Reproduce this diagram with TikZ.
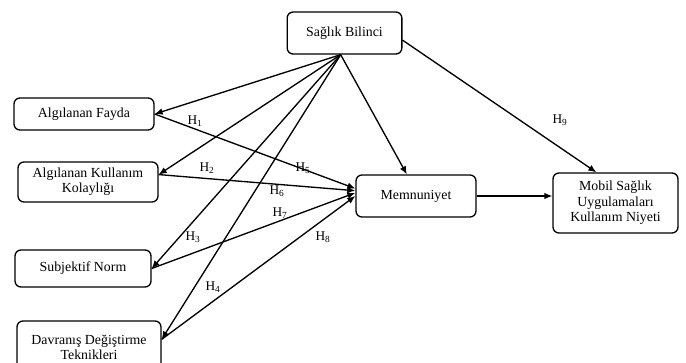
\documentclass[tikz,border=0pt]{standalone}
\usepackage{fontspec}
\setmainfont{Liberation Serif}
\usetikzlibrary{arrows.meta}

\tikzset{
  box/.style={draw, line width=1pt, rounded corners=4.5pt, align=center, inner sep=1pt,
    font=\fontsize{10.4}{11.5}\selectfont},
  hyp/.style={-{Latex[length=6pt,width=5pt]}, line width=1pt},
  lbl/.style={font=\fontsize{10}{12}\selectfont, inner sep=0pt}
}

\begin{document}
\begin{tikzpicture}[x=0.75pt,y=-0.75pt]
  \useasboundingbox (0,0) rectangle (686,362);
  % constructs
  \node[box, minimum width=86pt, minimum height=31.5pt] (sb) at (344.5,33) {Sağlık Bilinci};
  \node[box, minimum width=105pt, minimum height=24pt] (fay) at (84,114) {Algılanan Fayda};
  \node[box, minimum width=105pt, minimum height=30pt] (kol) at (88,182) {Algılanan Kullanım\\Kolaylığı};
  \node[box, minimum width=102pt, minimum height=27.75pt] (sn) at (83,268.5) {Subjektif Norm};
  \node[box, minimum width=108pt, minimum height=39pt] (dav) at (89,347) {Davranış Değiştirme\\Teknikleri};
  \node[box, minimum width=90pt, minimum height=31.5pt] (mem) at (416,196) {Memnuniyet};
  \node[box, minimum width=93.75pt, minimum height=45pt] (mob) at (615.5,203) {Mobil Sağlık\\Uygulamaları\\Kullanım Niyeti};

  % hypotheses
  \draw[hyp] (sb.260) -- (fay.east);
  \draw[hyp] (sb.260) -- (kol.6.5);
  \draw[hyp] (sb.260) -- (sn.east);
  \draw[hyp] (sb.260) -- (dav.6);
  \draw[hyp] (sb.260) -- (mem.113);
  \draw[hyp] (sb.-7) -- (mob.122);
  \draw[hyp] (fay.east) -- (mem.173);
  \draw[hyp] (kol.6.5) -- (mem.175);
  \draw[hyp] (sn.east) -- (mem.177);
  \draw[hyp] (dav.6) -- (mem.180);
  \draw[hyp] (mem.east) -- (mem.east -| mob.west);

  % labels
  \node[lbl] (h1) at (195,121) {H\textsubscript{1}};
  \node[lbl] (h2) at (207,168) {H\textsubscript{2}};
  \node[lbl] (h3) at (193,237) {H\textsubscript{3}};
  \node[lbl] (h4) at (213,287) {H\textsubscript{4}};
  \node[lbl] (h5) at (303,168) {H\textsubscript{5}};
  \node[lbl] (h6) at (277,191) {H\textsubscript{6}};
  \node[lbl] (h7) at (280,213) {H\textsubscript{7}};
  \node[lbl] (h8) at (323,237) {H\textsubscript{8}};
  \node[lbl] (h9) at (560,120) {H\textsubscript{9}};
\end{tikzpicture}
\end{document}
